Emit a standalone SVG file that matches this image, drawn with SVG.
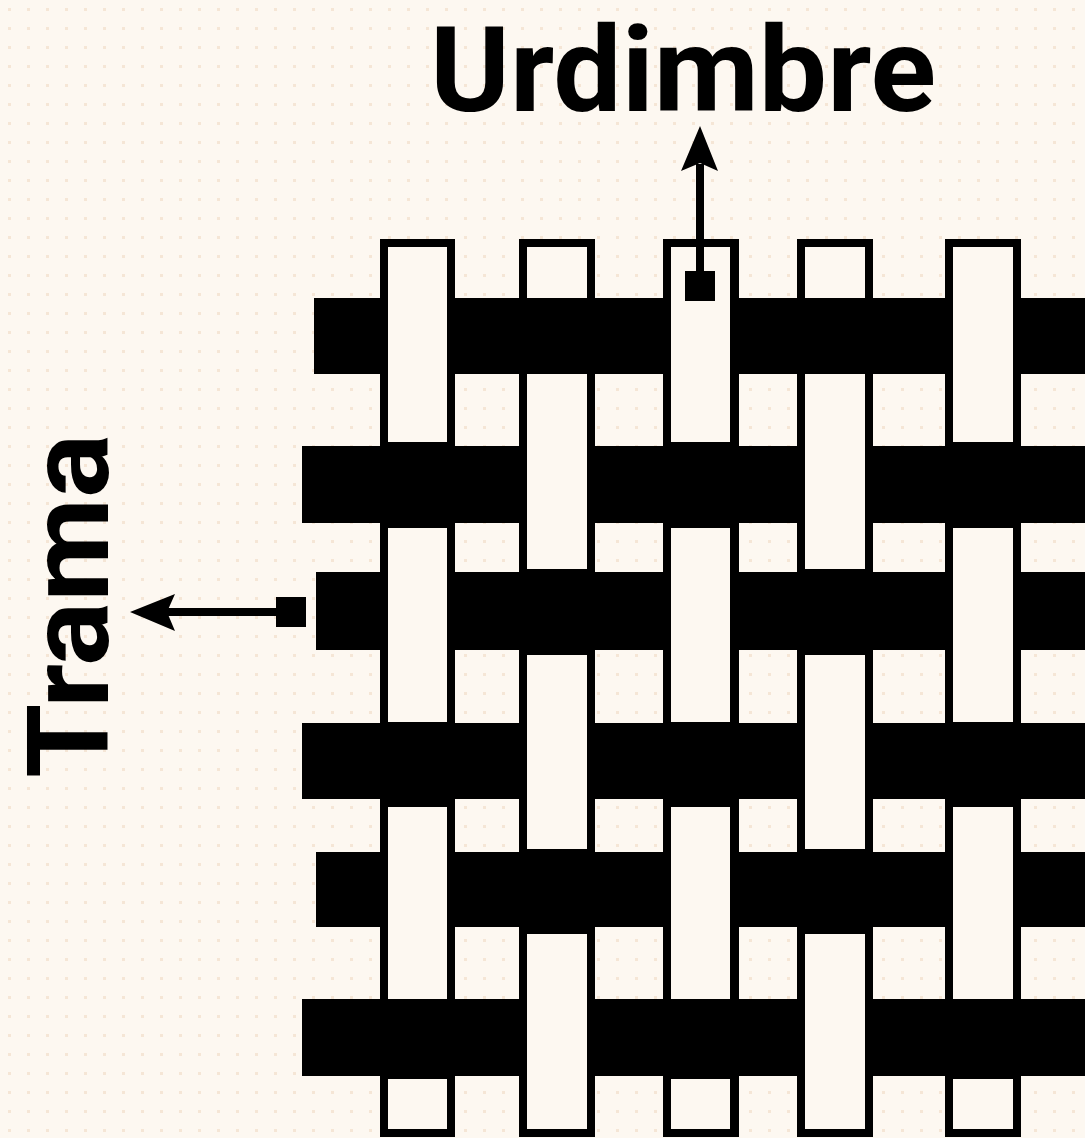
<svg xmlns="http://www.w3.org/2000/svg" width="1085" height="1138" viewBox="0 0 1085 1138">
  <defs>
    <style>
      .bg { fill: #fdf8f1; }
      .ink { fill: #000000; }
      .yarn { fill: #fdf8f1; }
      .shaft { stroke: #000000; stroke-width: 8; fill: none; }
      .label { font-family: Roboto, "Liberation Sans", sans-serif; font-weight: 700; fill: #000000; }
    </style>
    <pattern id="dots" x="0" y="0" width="19" height="19" patternUnits="userSpaceOnUse">
      <rect x="8" y="8" width="3" height="3" fill="#f3dfcb" opacity="0.7"/>
    </pattern>
  </defs>

  <rect class="bg" x="0" y="0" width="1085" height="1138"/>
  <rect x="0" y="0" width="1085" height="1138" fill="url(#dots)"/>

  <g id="weave">
    <g id="warp-outlines">
      <rect class="ink" x="380" y="239" width="75" height="898"/>
      <rect class="ink" x="519" y="239" width="76" height="898"/>
      <rect class="ink" x="663" y="239" width="76" height="898"/>
      <rect class="ink" x="797" y="239" width="76" height="898"/>
      <rect class="ink" x="945" y="239" width="76" height="898"/>
    </g>
    <g id="weft">
      <rect id="weft-1" class="ink" x="314" y="298" width="771" height="76"/>
      <rect id="weft-2" class="ink" x="302" y="446" width="783" height="77"/>
      <rect id="weft-3" class="ink" x="316" y="572" width="769" height="78"/>
      <rect id="weft-4" class="ink" x="302" y="723" width="783" height="76"/>
      <rect id="weft-5" class="ink" x="316" y="852" width="769" height="75"/>
      <rect id="weft-6" class="ink" x="302" y="999" width="783" height="77"/>
    </g>
    <g id="warp-1">
      <rect class="yarn" x="388" y="247" width="59" height="195"/>
      <rect class="yarn" x="388" y="528" width="59" height="194"/>
      <rect class="yarn" x="388" y="807" width="59" height="192"/>
      <rect class="yarn" x="388" y="1079" width="59" height="50"/>
    </g>
    <g id="warp-2">
      <rect class="yarn" x="527" y="247" width="60" height="51"/>
      <rect class="yarn" x="527" y="374" width="60" height="195"/>
      <rect class="yarn" x="527" y="655" width="60" height="194"/>
      <rect class="yarn" x="527" y="934" width="60" height="195"/>
    </g>
    <g id="warp-3">
      <rect class="yarn" x="671" y="247" width="59" height="195"/>
      <rect class="yarn" x="671" y="528" width="59" height="194"/>
      <rect class="yarn" x="671" y="807" width="59" height="192"/>
      <rect class="yarn" x="671" y="1079" width="59" height="50"/>
    </g>
    <g id="warp-4">
      <rect class="yarn" x="805" y="247" width="60" height="51"/>
      <rect class="yarn" x="805" y="374" width="60" height="195"/>
      <rect class="yarn" x="805" y="655" width="60" height="194"/>
      <rect class="yarn" x="805" y="934" width="60" height="195"/>
    </g>
    <g id="warp-5">
      <rect class="yarn" x="953" y="247" width="60" height="195"/>
      <rect class="yarn" x="953" y="528" width="60" height="194"/>
      <rect class="yarn" x="953" y="807" width="60" height="192"/>
      <rect class="yarn" x="953" y="1079" width="60" height="50"/>
    </g>
  </g>

  <g id="label-urdimbre">
    <text class="label" x="430" y="111" font-size="119" textLength="506" lengthAdjust="spacingAndGlyphs">Urdimbre</text>
  </g>
  <g id="label-trama">
    <text class="label" transform="translate(108,778) rotate(-90)" x="0" y="0" font-size="114" textLength="344" lengthAdjust="spacingAndGlyphs">Trama</text>
  </g>

  <g id="connectors">
    <g id="arrow-urdimbre">
      <rect class="ink" x="685" y="271" width="30" height="30"/>
      <line class="shaft" x1="700" y1="275" x2="700" y2="164"/>
      <path class="ink" d="M700,126 L718,171 L700,163 L681,171 Z"/>
    </g>
    <g id="arrow-trama">
      <rect class="ink" x="276" y="597" width="30" height="30"/>
      <line class="shaft" x1="280" y1="612" x2="166" y2="612"/>
      <path class="ink" d="M130,612 L175,594 L167,612 L175,631 Z"/>
    </g>
  </g>
</svg>
